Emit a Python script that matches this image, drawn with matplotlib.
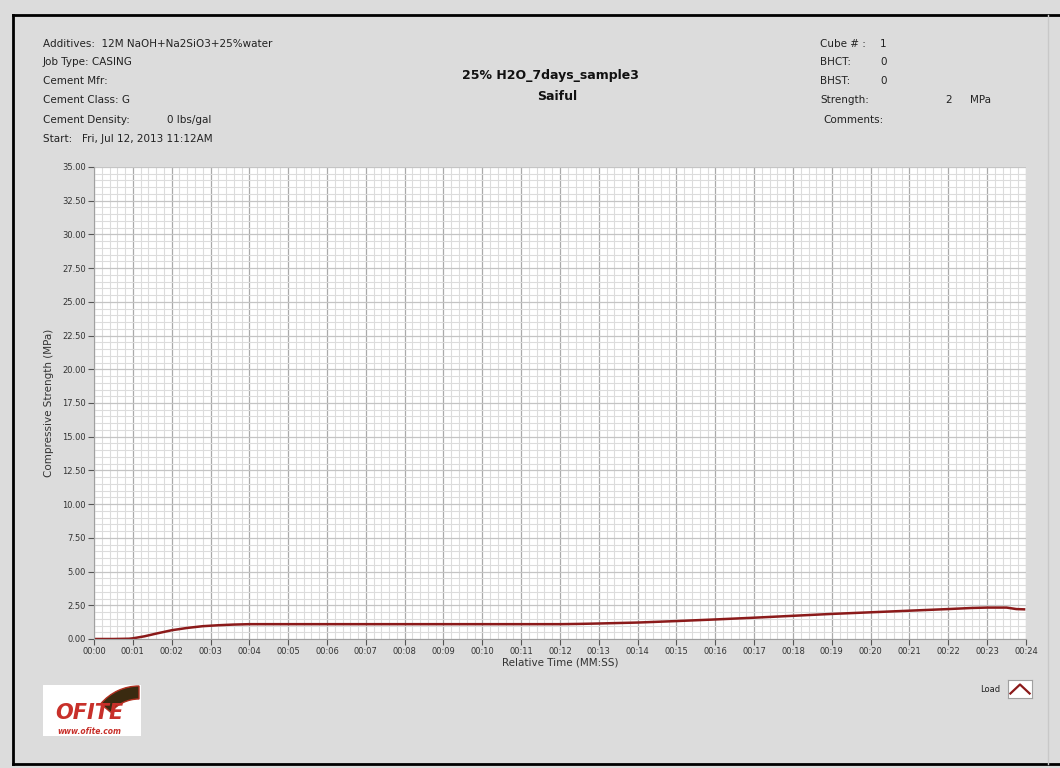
import numpy as np
import matplotlib.pyplot as plt
from matplotlib.patches import Rectangle, Wedge
from matplotlib.ticker import MultipleLocator, FixedLocator

# dados da curva (tempo em s, resistencia em MPa)
tempo = [0, 0.5, 0.9, 1.0, 1.3, 1.6, 2.0, 2.4, 2.8, 3.2, 3.6, 4.0, 5.0, 6.0, 7.0,
         8.0, 9.0, 10.0, 11.0, 12.0, 12.5, 13.0, 14.0, 15.0, 16.0, 17.0, 18.0,
         19.0, 20.0, 21.0, 22.0, 22.6, 23.0, 23.5, 23.75, 23.95]
carga = [0.0, 0.0, 0.02, 0.05, 0.2, 0.4, 0.65, 0.82, 0.95, 1.02, 1.07, 1.1, 1.1, 1.1, 1.1,
         1.1, 1.1, 1.1, 1.1, 1.1, 1.12, 1.15, 1.22, 1.33, 1.45, 1.58, 1.72,
         1.86, 1.98, 2.1, 2.22, 2.3, 2.33, 2.33, 2.22, 2.2]

x_labels = ['00:%02d' % s for s in range(25)]
y_ticks = np.arange(0, 35.01, 2.5)

info_esq = [('Additives:  12M NaOH+Na2SiO3+25%water', ''),
            ('Job Type: CASING', ''),
            ('Cement Mfr:', ''),
            ('Cement Class: G', ''),
            ('Cement Density:', '0 lbs/gal'),
            ('Start:   Fri, Jul 12, 2013 11:12AM', '')]
info_dir = [('Cube # :', '1'), ('BHCT:', '0'), ('BHST:', '0')]

W, H = 1060, 768
bg = '#dcdcdc'
fig = plt.figure(figsize=(10.6, 7.68), dpi=100, facecolor=bg)

def px(x, y):
    return x / W, 1 - y / H

# moldura
fig.add_artist(plt.Line2D([13/W, 13/W], [1-15/H, 1-764/H], color='black', lw=2))
fig.add_artist(plt.Line2D([13/W, 1], [1-15/H, 1-15/H], color='black', lw=2))
fig.add_artist(plt.Line2D([13/W, 1], [1-764/H, 1-764/H], color='black', lw=2))
fig.add_artist(plt.Line2D([1048/W, 1048/W], [1-15/H, 1-764/H], color='#c8c8c8', lw=1))

fs = 7.5
ys = [44, 62, 81, 100, 120, 139]
for (a, b), y in zip(info_esq, ys):
    fig.text(*px(43, y), a, fontsize=fs, va='center', color='#222222')
    if b:
        fig.text(*px(167, y), b, fontsize=fs, va='center', color='#222222')

for (a, b), y in zip(info_dir, ys[:3]):
    fig.text(*px(820, y), a, fontsize=fs, va='center', color='#222222')
    fig.text(*px(880, y), b, fontsize=fs, va='center', color='#222222')
fig.text(*px(820, 100), 'Strength:', fontsize=fs, va='center', color='#222222')
fig.text(*px(945, 100), '2', fontsize=fs, va='center', color='#222222')
fig.text(*px(970, 100), 'MPa', fontsize=fs, va='center', color='#222222')
fig.text(*px(823, 120), 'Comments:', fontsize=fs, va='center', color='#222222')

fig.text(*px(550, 76), '25% H2O_7days_sample3', fontsize=9, weight='bold',
         ha='center', va='center', color='#111111')
fig.text(*px(557, 97), 'Saiful', fontsize=9, weight='bold',
         ha='center', va='center', color='#111111')

# grafico
ax = fig.add_axes([94/W, 1-639/H, (1026-94)/W, (639-167)/H])
ax.set_facecolor('white')
ax.set_xlim(0, 24)
ax.set_ylim(0, 35)
ax.xaxis.set_major_locator(FixedLocator(range(25)))
ax.xaxis.set_minor_locator(MultipleLocator(0.2))
ax.yaxis.set_major_locator(FixedLocator(y_ticks))
ax.yaxis.set_minor_locator(MultipleLocator(0.5))
ax.set_xticklabels(x_labels)
ax.set_yticklabels(['%.2f' % v for v in y_ticks])
ax.grid(which='minor', color='#dcdcdc', lw=0.8)
ax.grid(which='major', axis='y', color='#c4c4c4', lw=0.9)
ax.grid(which='major', axis='x', color='#aaaaaa', lw=0.9)
ax.set_axisbelow(True)
ax.tick_params(which='minor', length=0)
ax.tick_params(which='major', labelsize=6, colors='#333333', length=4, width=0.8,
               pad=2, color='#555555')
for s in ['top', 'right']:
    ax.spines[s].set_visible(False)
for s in ['left', 'bottom']:
    ax.spines[s].set_color('#a0a0a0')
ax.plot(tempo, carga, color='#8b1a1a', lw=1.8, solid_joinstyle='miter')
ax.set_xlabel('Relative Time (MM:SS)', fontsize=7.5, color='#333333', labelpad=1)
ax.set_ylabel('Compressive Strength (MPa)', fontsize=7.5, color='#333333', labelpad=6)

# legenda
fig.text(*px(990, 689), 'Load', fontsize=6, ha='center', va='center', color='#222222')
lax = fig.add_axes([1008/W, 1-698/H, 24/W, 18/H])
lax.set_facecolor('white')
lax.set_xticks([]); lax.set_yticks([])
for s in lax.spines.values():
    s.set_color('#a0a0a0')
lax.set_xlim(0, 1); lax.set_ylim(0, 1)
lax.plot([0.1, 0.5, 0.9], [0.25, 0.75, 0.25], color='#8b1a1a', lw=1.6)

# logo OFITE
lg = fig.add_axes([43/W, 1-736/H, 98/W, 51/H])
lg.set_xlim(0, 98); lg.set_ylim(0, 51)
lg.axis('off')
lg.add_patch(Rectangle((0, 0), 98, 51, color='white'))
lg.add_patch(Wedge((96, 0), 50, 90, 140, width=13, facecolor='#3a2a10',
                   edgecolor='#b03020', lw=1))
lg.text(46, 23, 'OFITE', fontsize=15, weight='bold', style='italic', color='#c8302a',
        ha='center', va='center', family='DejaVu Sans')
lg.text(46, 5, 'www.ofite.com', fontsize=5.5, weight='bold', style='italic',
        color='#c8302a', ha='center', va='center')

fig.savefig('out.png', dpi=100, facecolor=bg)
